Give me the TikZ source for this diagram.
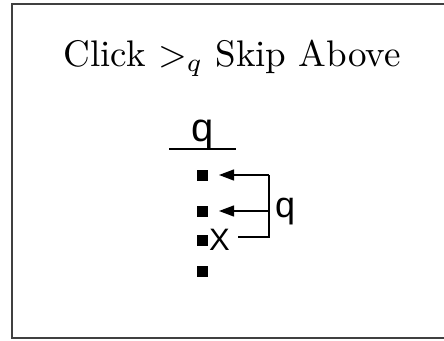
\documentclass[tikz,border=0pt]{standalone}
\usepackage{fontspec}
\newfontfamily\sansf{Liberation Sans}
\usetikzlibrary{arrows.meta}
\begin{document}
\begin{tikzpicture}[x=1pt,y=-1pt,
  sq/.style={fill=black,minimum size=11pt,inner sep=0pt},
  lbl/.style={inner sep=0pt},
  conn/.style={line width=1.3pt},
  arr/.style={conn,-{Triangle[length=15pt,width=11pt]}}]
\useasboundingbox (0,0) rectangle (444,340);
\begin{scope}
\clip (0,0) rectangle (444,340);
\draw[line width=2pt,black!75] (12,4) rectangle (460,338);
\end{scope}
\node[anchor=base,inner sep=0pt] (title) at (232,66) {\scalebox{3.7}{Click $>_q$ Skip Above}};
\node[lbl,anchor=base,font=\sansf\fontsize{40}{44}\selectfont] (qtop) at (203,141) {q};
\coordinate (ul1) at (169,149);
\coordinate (ul2) at (236,149);
\draw[conn] (ul1) -- (ul2);
\node[sq] (s1) at (202.5,175.5) {};
\node[sq] (s2) at (202.5,211) {};
\node[sq] (s3) at (202.5,240) {};
\node[sq] (s4) at (202.5,271) {};
\node[lbl,anchor=base west,font=\sansf\fontsize{31}{34}\selectfont] (x) at (209,250) {X};
\coordinate (b1) at (269,175);
\coordinate (b2) at (269,211);
\coordinate (b3) at (269,237);
\coordinate (xend) at (238,237);
\draw[conn] (xend) -- (b3) -- (b1);
\draw[arr] (b1) -- (219,175);
\draw[arr] (b2) -- (219,211);
\node[lbl,anchor=base west,font=\sansf\fontsize{36}{40}\selectfont] (qr) at (275,217) {q};
\end{tikzpicture}
\end{document}
